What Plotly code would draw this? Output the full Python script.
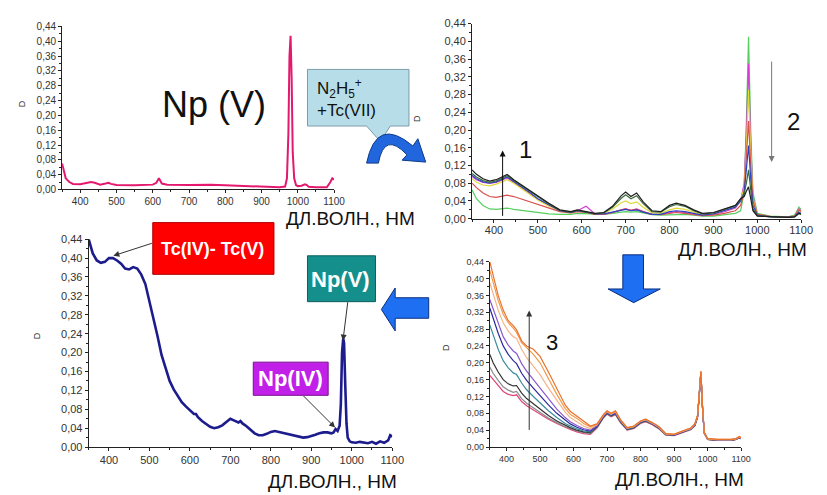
import plotly.graph_objects as go

W, H = 827, 495

# ---------------- data ----------------
X_TICKS = [400, 500, 600, 700, 800, 900, 1000, 1100]
X_TICK_LABELS = ["400", "500", "600", "700", "800", "900", "1000", "1100"]
Y_TICKS = [0.00, 0.04, 0.08, 0.12, 0.16, 0.20, 0.24, 0.28, 0.32, 0.36, 0.40, 0.44]
Y_TICK_LABELS = ["0,00", "0,04", "0,08", "0,12", "0,16", "0,20", "0,24", "0,28", "0,32", "0,36", "0,40", "0,44"]
X_MINOR = [350, 450, 550, 650, 750, 850, 950, 1050]
Y_MINOR = [0.02, 0.06, 0.10, 0.14, 0.18, 0.22, 0.26, 0.30, 0.34, 0.38, 0.42]

# Panel 1: Np(V)
TL_WL = [350, 355, 360, 370, 380, 400, 420, 430, 440, 455,
         470, 478, 485, 500, 550, 600, 610, 617, 625, 640,
         700, 760, 800, 850, 900, 950, 965, 970, 974, 977,
         980, 983, 986, 990, 995, 1000, 1010, 1020, 1025, 1030,
         1050, 1080, 1090, 1095, 1100]
TL_D = [0.070, 0.045, 0.030, 0.020, 0.015, 0.014, 0.018, 0.020, 0.018, 0.013,
        0.016, 0.018, 0.015, 0.012, 0.011, 0.013, 0.018, 0.030, 0.016, 0.013,
        0.012, 0.013, 0.011, 0.009, 0.007, 0.006, 0.008, 0.030, 0.150, 0.360,
        0.415, 0.300, 0.100, 0.030, 0.012, 0.009, 0.010, 0.014, 0.012, 0.007,
        0.006, 0.006, 0.020, 0.030, 0.026]

# Shared grid for the multi-curve panels
G_WL = [350, 360, 375, 390, 405, 420, 430, 445, 460, 480,
        500, 525, 550, 575, 590, 610, 630, 650, 670, 690,
        700, 712, 725, 740, 760, 780, 800, 815, 835, 855,
        875, 900, 925, 950, 962, 970, 975, 980, 985, 990,
        1000, 1030, 1070, 1085, 1095, 1100]

# Panel 2: N2H5+ + Tc(VII)
TR_green = [.065, .045, .030, .022, .021, .023, .024, .021, .019, .016,
            .013, .011, .010, .010, .012, .011, .010, .010, .012, .015,
            .016, .015, .016, .013, .009, .008, .009, .010, .010, .008,
            .006, .006, .009, .012, .018, .060, .220, .410, .200, .060,
            .012, .006, .004, .008, .026, .020]
TR_magenta = [.095, .088, .082, .080, .082, .088, .092, .082, .072, .058,
              .044, .030, .018, .014, .018, .028, .011, .010, .014, .020,
              .022, .019, .022, .016, .010, .010, .014, .016, .014, .010,
              .008, .010, .016, .024, .040, .080, .190, .350, .170, .050,
              .010, .005, .004, .006, .022, .018]
TR_yellow = [.090, .082, .076, .074, .078, .084, .088, .080, .070, .056,
             .042, .028, .017, .013, .017, .014, .010, .012, .022, .036,
             .040, .034, .038, .026, .013, .012, .020, .024, .021, .015,
             .009, .011, .018, .026, .040, .070, .160, .290, .150, .045,
             .010, .005, .004, .006, .020, .016]
TR_red = [.080, .070, .058, .050, .048, .050, .053, .050, .045, .040,
          .032, .024, .016, .013, .016, .014, .010, .010, .014, .020,
          .022, .019, .021, .016, .010, .009, .012, .014, .012, .009,
          .007, .008, .012, .018, .030, .060, .130, .220, .120, .040,
          .010, .005, .004, .006, .020, .016]
TR_blue = [.098, .090, .083, .080, .083, .090, .094, .084, .074, .060,
           .045, .031, .018, .014, .018, .015, .011, .011, .015, .020,
           .021, .018, .020, .015, .010, .010, .016, .018, .016, .012,
           .008, .011, .018, .026, .040, .060, .110, .165, .090, .030,
           .008, .004, .003, .005, .015, .012]
TR_dkgreen = [.102, .094, .086, .082, .085, .092, .097, .086, .076, .062,
              .048, .033, .019, .015, .019, .015, .011, .013, .026, .046,
              .054, .045, .052, .034, .016, .015, .027, .032, .028, .018,
              .011, .013, .021, .029, .045, .055, .080, .110, .065, .022,
              .007, .004, .003, .004, .012, .010]
TR_black = [.110, .100, .090, .085, .088, .095, .100, .088, .078, .065,
            .050, .035, .020, .016, .020, .016, .012, .014, .028, .052,
            .060, .050, .058, .038, .018, .016, .030, .035, .030, .020,
            .012, .014, .022, .030, .045, .050, .062, .072, .045, .018,
            .006, .004, .003, .004, .012, .010]

# Panel 4: subsequent evolution
BR_pink = [.170, .160, .145, .132, .125, .122, .124, .108, .098, .088,
           .078, .066, .056, .046, .042, .036, .032, .030, .045, .070,
           .078, .072, .077, .058, .040, .044, .056, .060, .053, .043,
           .028, .027, .034, .041, .050, .070, .120, .175, .090, .033,
           .018, .016, .016, .018, .022, .020]
BR_gray = [.190, .175, .158, .143, .135, .130, .132, .115, .104, .093,
           .082, .069, .058, .048, .044, .038, .034, .032, .047, .071,
           .079, .073, .078, .059, .041, .045, .057, .061, .054, .044,
           .029, .028, .035, .042, .051, .071, .121, .176, .091, .034,
           .018, .016, .016, .018, .022, .020]
BR_black = [.220, .200, .178, .160, .150, .145, .146, .128, .115, .102,
            .090, .075, .062, .051, .046, .040, .036, .034, .048, .072,
            .080, .074, .079, .060, .042, .046, .058, .062, .055, .045,
            .030, .028, .036, .043, .052, .072, .122, .177, .092, .034,
            .018, .016, .016, .018, .022, .020]
BR_teal = [.290, .265, .232, .205, .188, .176, .172, .152, .136, .120,
           .104, .086, .070, .056, .050, .043, .038, .036, .049, .073,
           .081, .075, .080, .061, .043, .047, .059, .063, .055, .046,
           .030, .029, .036, .043, .053, .072, .122, .177, .092, .034,
           .019, .017, .017, .019, .023, .021]
BR_blue = [.330, .305, .270, .240, .220, .205, .198, .175, .158, .140,
           .122, .100, .080, .063, .055, .047, .041, .038, .050, .074,
           .082, .076, .081, .062, .044, .048, .060, .064, .056, .046,
           .031, .029, .037, .044, .053, .073, .123, .178, .093, .034,
           .019, .017, .017, .019, .023, .021]
BR_purple = [.350, .328, .292, .262, .242, .228, .222, .198, .180, .160,
             .140, .114, .090, .070, .060, .051, .044, .040, .051, .075,
             .083, .077, .082, .063, .044, .048, .060, .064, .056, .047,
             .031, .029, .037, .044, .054, .073, .123, .178, .093, .034,
             .019, .017, .017, .019, .023, .021]
BR_ltorange = [.390, .362, .325, .295, .275, .262, .258, .232, .212, .192,
               .172, .140, .110, .083, .070, .060, .050, .044, .053, .076,
               .084, .078, .084, .064, .045, .049, .061, .065, .057, .047,
               .031, .030, .037, .044, .054, .074, .124, .179, .094, .035,
               .019, .017, .017, .019, .024, .021]
BR_orange = [.420, .390, .348, .315, .295, .282, .272, .248, .235, .220,
             .200, .162, .125, .092, .078, .068, .056, .048, .054, .077,
             .085, .079, .085, .064, .045, .049, .062, .066, .058, .048,
             .032, .030, .038, .045, .055, .075, .125, .180, .095, .035,
             .020, .018, .018, .020, .025, .022]
BR_dkorange = [.440, .405, .360, .325, .300, .288, .278, .252, .240, .232,
               .215, .178, .138, .100, .085, .073, .060, .050, .055, .078,
               .086, .080, .086, .065, .046, .050, .062, .066, .058, .048,
               .032, .030, .038, .045, .055, .075, .125, .180, .095, .035,
               .020, .018, .018, .020, .025, .022]

# Panel 3: final spectrum
BL_WL = [350, 355, 360, 370, 380, 390, 400, 410, 420, 430,
         440, 450, 460, 470, 480, 490, 500, 510, 520, 530,
         540, 550, 560, 570, 580, 590, 600, 610, 615, 620,
         630, 640, 650, 660, 670, 680, 690, 700, 710, 720,
         725, 730, 740, 750, 760, 770, 780, 790, 800, 810,
         820, 830, 840, 850, 860, 870, 880, 890, 900, 910,
         920, 930, 940, 950, 955, 960, 965, 970, 973, 976,
         979, 981, 984, 987, 990, 995, 1000, 1010, 1020, 1030,
         1040, 1050, 1060, 1070, 1080, 1090, 1095, 1100]
BL_D = [0.440, 0.425, 0.410, 0.395, 0.390, 0.392, 0.400, 0.400, 0.395, 0.388,
        0.378, 0.376, 0.381, 0.378, 0.365, 0.345, 0.310, 0.270, 0.235, 0.195,
        0.165, 0.140, 0.122, 0.108, 0.095, 0.086, 0.078, 0.070, 0.070, 0.063,
        0.055, 0.048, 0.043, 0.040, 0.042, 0.046, 0.054, 0.060, 0.056, 0.052,
        0.055, 0.050, 0.044, 0.036, 0.029, 0.025, 0.025, 0.028, 0.032, 0.034,
        0.032, 0.030, 0.028, 0.026, 0.023, 0.021, 0.020, 0.021, 0.023, 0.026,
        0.029, 0.031, 0.031, 0.029, 0.031, 0.038, 0.034, 0.045, 0.090, 0.200,
        0.230, 0.220, 0.130, 0.050, 0.020, 0.012, 0.010, 0.009, 0.011, 0.010,
        0.008, 0.011, 0.007, 0.012, 0.009, 0.014, 0.025, 0.022]

assert len(TL_WL) == len(TL_D)
assert len(BL_WL) == len(BL_D)

TR_SERIES = [(TR_green, "#55d060"), (TR_magenta, "#d43cd4"), (TR_yellow, "#e2d83a"),
             (TR_red, "#d9504c"), (TR_blue, "#2a44c4"), (TR_dkgreen, "#3a6a3a"),
             (TR_black, "#1e1e1e")]
BR_SERIES = [(BR_pink, "#e0457a"), (BR_gray, "#8a8a8a"), (BR_black, "#333333"),
             (BR_teal, "#3c8c9c"), (BR_blue, "#2a2aa0"), (BR_purple, "#8a5ad0"),
             (BR_ltorange, "#f4b48a"), (BR_orange, "#f29a4a"), (BR_dkorange, "#e8732e")]
for s, _ in TR_SERIES + BR_SERIES:
    assert len(s) == len(G_WL)

# ---------------- helpers ----------------
def px(x):
    return x / W


def py(y):
    return 1 - y / H


TICK_FONT = "Liberation Sans, Arial, sans-serif"
TEXT_FONT = "Liberation Sans, Arial, sans-serif"

fig = go.Figure()

fig.add_trace(go.Scatter(x=TL_WL, y=TL_D, mode="lines", xaxis="x", yaxis="y",
                         line=dict(color="#e3186e", width=2), hoverinfo="skip"))
for s, c in TR_SERIES:
    fig.add_trace(go.Scatter(x=G_WL, y=s, mode="lines", xaxis="x2", yaxis="y2",
                             line=dict(color=c, width=1.2), hoverinfo="skip"))
fig.add_trace(go.Scatter(x=BL_WL, y=BL_D, mode="lines", xaxis="x3", yaxis="y3",
                         line=dict(color="#1c1c8c", width=2.6), hoverinfo="skip"))
for s, c in BR_SERIES:
    fig.add_trace(go.Scatter(x=G_WL, y=s, mode="lines", xaxis="x4", yaxis="y4",
                             line=dict(color=c, width=1.2), hoverinfo="skip"))


def xax(x0, x1, anchor, fs, standoff=0):
    return dict(domain=[px(x0), px(x1)], anchor=anchor, range=[350, 1100],
                showline=True, linecolor="#222", linewidth=1, ticks="outside",
                ticklen=3, tickwidth=1, tickcolor="#222",
                tickvals=X_TICKS, ticktext=X_TICK_LABELS,
                tickfont=dict(size=fs, family=TICK_FONT, color="#333"),
                ticklabelstandoff=standoff,
                minor=dict(ticks="outside", ticklen=2, tickvals=X_MINOR, tickcolor="#222"),
                showgrid=False, zeroline=False, fixedrange=True)


def yax(ytop, ybot, anchor, fs):
    return dict(domain=[py(ybot), py(ytop)], anchor=anchor, range=[0, 0.44],
                showline=True, linecolor="#222", linewidth=1, ticks="outside",
                ticklen=3, tickwidth=1, tickcolor="#222",
                tickvals=Y_TICKS, ticktext=Y_TICK_LABELS,
                tickfont=dict(size=fs, family=TICK_FONT, color="#333"),
                minor=dict(ticks="outside", ticklen=2, tickvals=Y_MINOR, tickcolor="#222"),
                showgrid=False, zeroline=False, fixedrange=True)


shapes = []


def path_px(points, close=True):
    s = "M " + " L ".join(f"{px(x):.5f},{py(y):.5f}" for x, y in points)
    return s + (" Z" if close else "")


# callout box
shapes.append(dict(type="path", xref="paper", yref="paper",
                   path=path_px([(312, 65), (415, 65), (415, 123), (396, 123),
                                 (386, 139), (372, 123), (312, 123)]),
                   fillcolor="#b7dee8", line=dict(color="#7d9cab", width=1)))
# curved arrow
curve = (f"M {px(372):.5f},{py(161):.5f} Q {px(382):.5f},{py(112):.5f} {px(419):.5f},{py(143.5):.5f} "
         f"L {px(424):.5f},{py(136):.5f} L {px(432):.5f},{py(160):.5f} L {px(408):.5f},{py(158):.5f} "
         f"L {px(413):.5f},{py(152.5):.5f} Q {px(390):.5f},{py(128):.5f} {px(384):.5f},{py(161):.5f} Z")
shapes.append(dict(type="path", xref="paper", yref="paper", path=curve,
                   fillcolor="#2266dd", line=dict(color="#0d3a8a", width=1)))
# down block arrow
shapes.append(dict(type="path", xref="paper", yref="paper",
                   path=path_px([(632, 255), (653, 255), (653, 290), (670, 290),
                                 (643, 304), (617, 290), (632, 290)]),
                   fillcolor="#1f6ff2", line=dict(color="#0a2f80", width=1)))
# left block arrow
shapes.append(dict(type="path", xref="paper", yref="paper",
                   path=path_px([(435, 299), (401, 299), (401, 289), (387, 311),
                                 (401, 333), (401, 320), (435, 320)]),
                   fillcolor="#1f6ff2", line=dict(color="#0a2f80", width=1)))
# label boxes
for (x0, y0, x1, y1, fc, lc) in [(155, 222, 278, 275, "#ff0000", "#b00000"),
                                 (312, 256, 381, 303, "#148f8c", "#0d5f5d"),
                                 (257, 365, 333, 399, "#c020e8", "#7a108f")]:
    shapes.append(dict(type="rect", xref="paper", yref="paper",
                       x0=px(x0), x1=px(x1), y0=py(y1), y1=py(y0),
                       fillcolor=fc, line=dict(color=lc, width=1)))

ann = []


def text(x, y, t, size, color="#111", bold=False, angle=0, family=TEXT_FONT,
         xanchor="center", align="center"):
    if bold:
        t = f"<b>{t}</b>"
    ann.append(dict(x=px(x), y=py(y), xref="paper", yref="paper", text=t,
                    showarrow=False, textangle=angle, xanchor=xanchor, yanchor="middle",
                    align=align, font=dict(size=size, color=color, family=family)))


def arrow(tx, ty, hx, hy, color="#333", width=1, head=2, size=1.2):
    ann.append(dict(x=px(hx), y=py(hy), xref="paper", yref="paper", text="",
                    showarrow=True, ax=tx - hx, ay=ty - hy, axref="pixel", ayref="pixel",
                    arrowhead=head, arrowsize=size, arrowwidth=width, arrowcolor=color))


text(217, 101, "Np (V)", 36)
text(320, 94, "N<sub>2</sub>H<sub>5</sub><sup>+</sup><br>+Tc(VII)", 17,
     xanchor="left", align="left")
text(216, 249, "Tc(IV)- Tc(V)", 18, color="white", bold=True)
text(346, 280, "Np(V)", 22, color="white", bold=True)
text(295, 382, "Np(IV)", 22, color="white", bold=True)

xt = "ДЛ.ВОЛН., НМ"
text(356, 218, xt, 19)
text(753, 250, xt, 19)
text(337, 487, xt, 19)
text(690, 485, xt, 19)

for (x, y) in [(22, 100), (423, 115), (37, 338), (452, 350)]:
    text(x, y, "D", 9, color="#333", angle=-90)

text(533, 147, "1", 24)
text(805, 118, "2", 24)
text(560, 345, "3", 22)

arrow(155, 243, 115, 256)
arrow(353, 303, 348, 343)
arrow(307, 399, 340, 432)
arrow(510, 215, 510, 148, color="#111")
arrow(783, 58, 783, 160, color="#777")
arrow(537, 433, 537, 312, color="#333")

fig.update_layout(
    width=W, height=H, margin=dict(l=0, r=0, t=0, b=0),
    paper_bgcolor="white", plot_bgcolor="white", showlegend=False,
    xaxis=xax(63, 339, "y", 10), yaxis=yax(21, 188, "x", 10),
    xaxis2=xax(479, 813, "y2", 11, -2), yaxis2=yax(18, 218, "x2", 11),
    xaxis3=xax(90, 398, "y3", 11), yaxis3=yax(239, 452, "x3", 11),
    xaxis4=xax(497, 752, "y4", 9), yaxis4=yax(262, 452, "x4", 9),
    shapes=shapes, annotations=ann,
)

fig.write_html("out.html")
